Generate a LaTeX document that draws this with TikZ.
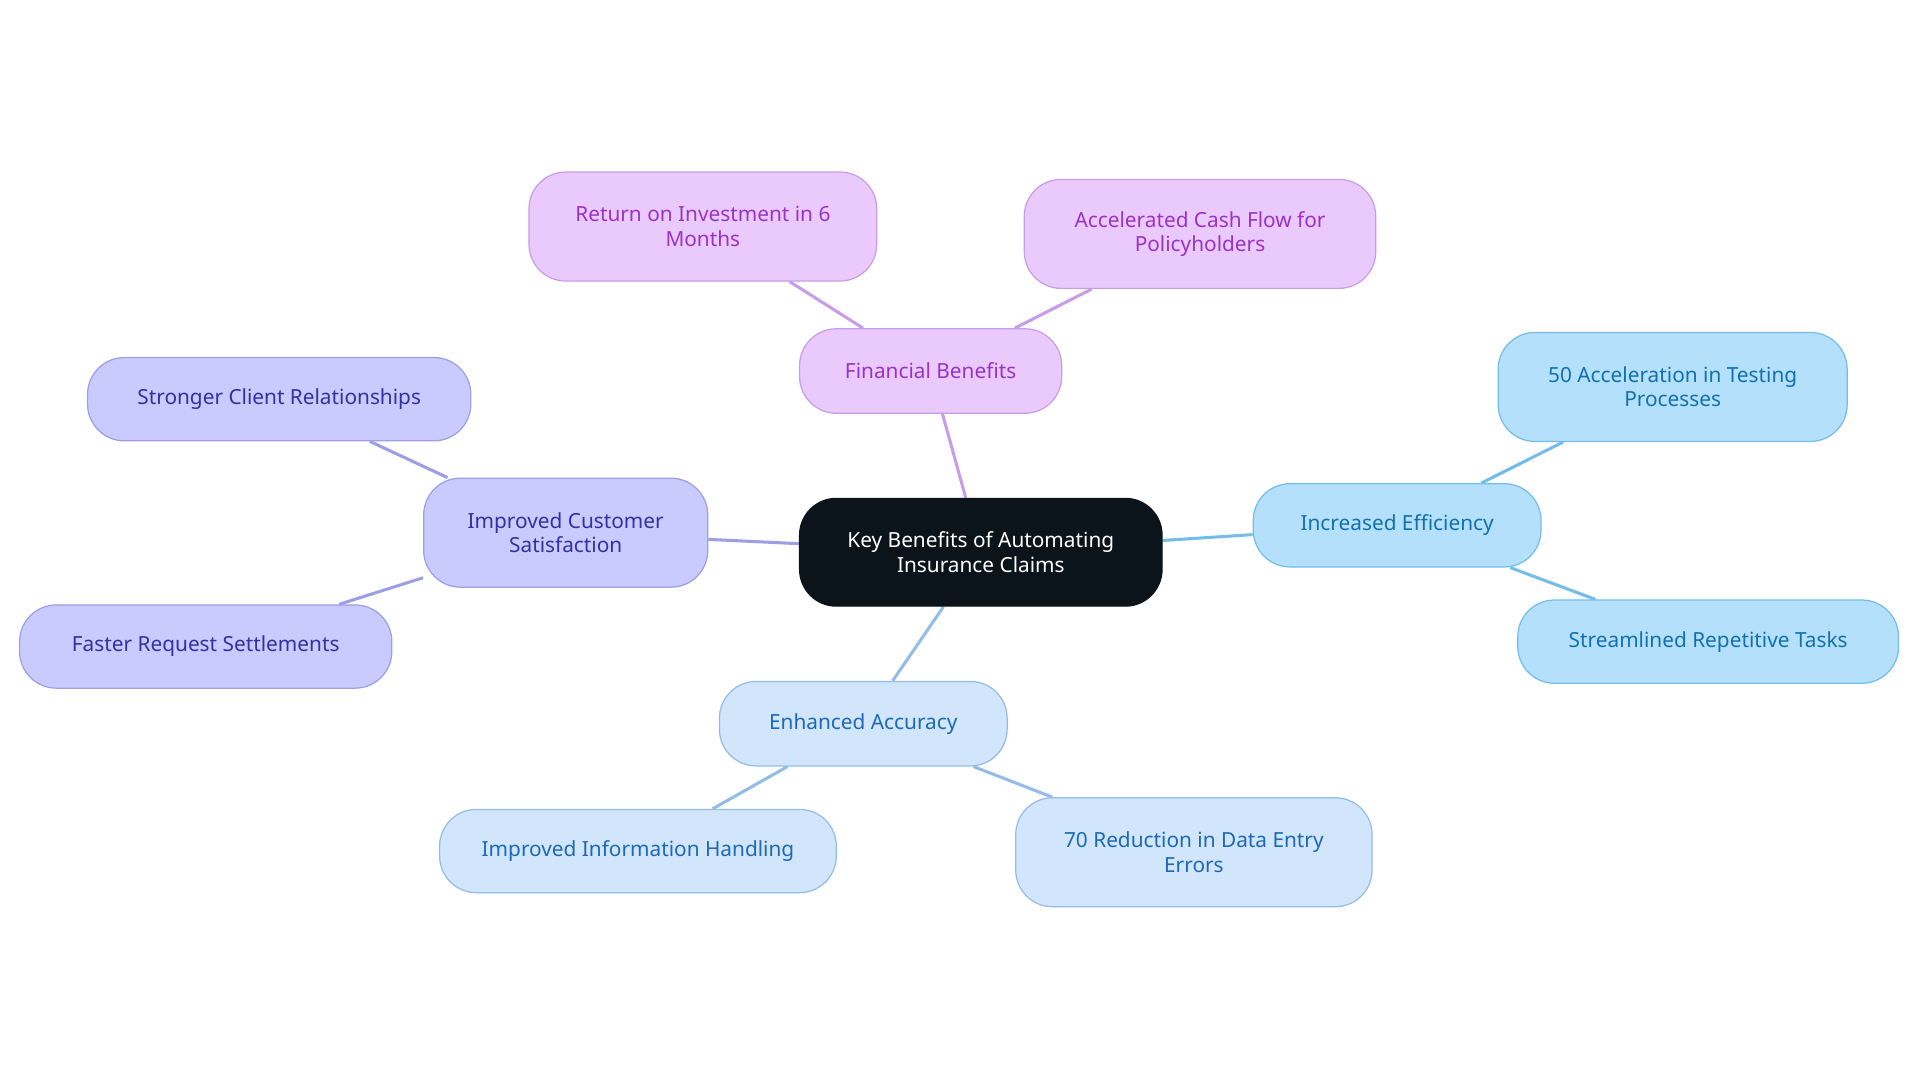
\documentclass[tikz,border=0pt]{standalone}
\usepackage{fontspec}
\setmainfont{Noto Sans}
\usetikzlibrary{backgrounds}
\definecolor{pf}{HTML}{EACAFD}\definecolor{pb}{HTML}{C99CE8}\definecolor{pt}{HTML}{9A32C6}
\definecolor{vf}{HTML}{C9CAFD}\definecolor{vb}{HTML}{9D9EE6}\definecolor{vt}{HTML}{3031A6}
\definecolor{bf}{HTML}{B5E0FC}\definecolor{bb}{HTML}{72BDEA}\definecolor{bt}{HTML}{1171AE}
\definecolor{lf}{HTML}{D1E5FB}\definecolor{lb}{HTML}{93BDE8}\definecolor{lt}{HTML}{1E69B5}
\definecolor{cf}{HTML}{0B141B}
\tikzset{
 nb/.style={rounded corners=30pt,align=center,inner sep=0pt,font=\fontsize{17}{20}\selectfont,line width=1pt},
 pn/.style={nb,fill=pf,draw=pb,text=pt},
 vn/.style={nb,fill=vf,draw=vb,text=vt},
 bn/.style={nb,fill=bf,draw=bb,text=bt},
 ln/.style={nb,fill=lf,draw=lb,text=lt},
 ed/.style={line width=2.5pt}
}
\begin{document}
\begin{tikzpicture}[x=1pt,y=-1pt]
\useasboundingbox (0,0) rectangle (1568,884);
\node[nb,fill=cf,draw=cf,text=white,minimum width=296,minimum height=88] (c) at (801,451) {Key Benefits of Automating\\Insurance Claims};
\node[pn,minimum width=214,minimum height=69] (fin) at (760,303) {Financial Benefits};
\node[pn,minimum width=284,minimum height=89] (roi) at (574,185) {Return on Investment in 6\\Months};
\node[pn,minimum width=287,minimum height=89] (acc) at (980,191) {Accelerated Cash Flow for\\Policyholders};
\node[bn,minimum width=235,minimum height=68] (eff) at (1141,429) {Increased Efficiency};
\node[bn,minimum width=285,minimum height=89] (fifty) at (1366,316) {50 Acceleration in Testing\\Processes};
\node[bn,minimum width=311,minimum height=68] (str) at (1395,524) {Streamlined Repetitive Tasks};
\node[ln,minimum width=235,minimum height=69] (ea) at (705,591) {Enhanced Accuracy};
\node[ln,minimum width=324,minimum height=68] (iih) at (521,695) {Improved Information Handling};
\node[ln,minimum width=291,minimum height=89] (sev) at (975,696) {70 Reduction in Data Entry\\Errors};
\node[vn,minimum width=232,minimum height=89] (ics) at (462,435) {Improved Customer\\Satisfaction};
\node[vn,minimum width=313,minimum height=68] (scr) at (228,326) {Stronger Client Relationships};
\node[vn,minimum width=304,minimum height=68] (frs) at (168,528) {Faster Request Settlements};
\begin{scope}[on background layer]
\draw[ed,pb] (c) -- (fin); \draw[ed,pb] (fin) -- (roi); \draw[ed,pb] (fin) -- (acc);
\draw[ed,bb] (c) -- (eff); \draw[ed,bb] (eff) -- (fifty); \draw[ed,bb] (eff) -- (str);
\draw[ed,lb] (c) -- (ea); \draw[ed,lb] (ea) -- (iih); \draw[ed,lb] (ea) -- (sev);
\draw[ed,vb] (c) -- (ics); \draw[ed,vb] (ics) -- (scr); \draw[ed,vb] (ics) -- (frs);
\end{scope}
\end{tikzpicture}
\end{document}
